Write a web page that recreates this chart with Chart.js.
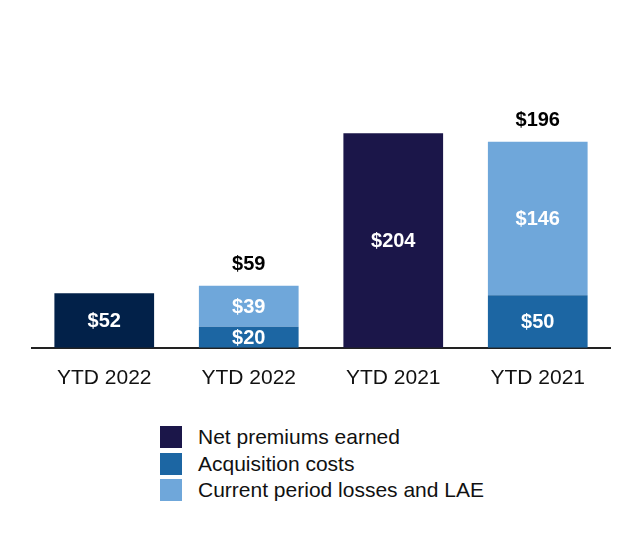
<!DOCTYPE html>
<html>
<head>
<meta charset="utf-8">
<script src="https://cdn.jsdelivr.net/npm/chart.js@4.4.0/dist/chart.umd.min.js"></script>
<style>
  html, body { margin: 0; padding: 0; background: #fff; }
  body { width: 640px; height: 540px; position: relative; font-family: "Liberation Sans", Arial, sans-serif; }
  #wrap { position: absolute; left: 0; top: 0; width: 640px; height: 420px; }
  #legend { position: absolute; left: 160px; top: 424px; }
  .item { display: flex; align-items: center; height: 26.5px; font-size: 21px; color: #111; }
  .box { width: 22px; height: 22px; margin-right: 16px; }
</style>
</head>
<body>
<div id="wrap"><canvas id="chart"></canvas></div>
<div id="legend"></div>
<script>
// Data (in $ millions)
const categories = ['YTD 2022', 'YTD 2022', 'YTD 2021', 'YTD 2021'];
const netPremiums = [52, null, 204, null];
const acquisitionCosts = [null, 20, null, 50];
const currentLosses = [null, 39, null, 146];
const seriesNames = ['Net premiums earned', 'Acquisition costs', 'Current period losses and LAE'];

const premiumColors = ['#022149', '#022149', '#1b1649', '#1b1649'];
const legendColors = ['#1b1649', '#1c66a3', '#6fa7da'];

// draws the $ labels inside the bars and the totals on stacked bars
const barLabels = {
    id: 'barLabels',
    afterDatasetsDraw(chart) {
        const ctx = chart.ctx;
        ctx.save();
        ctx.textAlign = 'center';
        ctx.textBaseline = 'middle';
        ctx.font = 'bold 20px "Liberation Sans", Arial, sans-serif';
        chart.data.datasets.forEach((ds, i) => {
            const meta = chart.getDatasetMeta(i);
            meta.data.forEach((bar, j) => {
                const v = ds.data[j];
                if (v == null) return;
                const mid = (bar.y + bar.base) / 2;
                ctx.fillStyle = '#ffffff';
                ctx.fillText('$' + v, bar.x, mid + 1);
            });
        });
        // totals
        categories.forEach((c, j) => {
            if (acquisitionCosts[j] == null) return;
            const total = acquisitionCosts[j] + currentLosses[j];
            const yPx = chart.scales.y.getPixelForValue(total);
            const xPx = chart.scales.x.getPixelForValue(j);
            ctx.fillStyle = '#000000';
            ctx.fillText('$' + total, xPx, yPx - 21);
        });
        ctx.restore();
    }
};

const chart = new Chart(document.getElementById('chart'), {
    type: 'bar',
    data: {
        labels: categories,
        datasets: [
            { label: seriesNames[0], data: netPremiums, backgroundColor: premiumColors },
            { label: seriesNames[1], data: acquisitionCosts, backgroundColor: legendColors[1] },
            { label: seriesNames[2], data: currentLosses, backgroundColor: legendColors[2] }
        ]
    },
    options: {
        responsive: true,
        maintainAspectRatio: false,
        animation: false,
        categoryPercentage: 1,
        barPercentage: 0.69,
        layout: { padding: { left: 32, right: 30, top: 85, bottom: 11 } },
        plugins: {
            legend: { display: false },
            tooltip: { enabled: false }
        },
        scales: {
            x: {
                stacked: true,
                grid: { display: false, drawTicks: false },
                border: { display: true, color: '#222', width: 2 },
                ticks: {
                    color: '#111',
                    padding: 18,
                    font: { size: 21, family: '"Liberation Sans", Arial, sans-serif' }
                }
            },
            y: {
                stacked: true,
                display: false,
                min: 0,
                max: 250
            }
        }
    },
    plugins: [barLabels]
});

// html legend, built from the datasets
const legendEl = document.getElementById('legend');
chart.data.datasets.forEach((ds, i) => {
    const row = document.createElement('div');
    row.className = 'item';
    row.innerHTML = '<span class="box" style="background:' + legendColors[i] + '"></span><span>' + ds.label + '</span>';
    legendEl.appendChild(row);
});
</script>
</body>
</html>
